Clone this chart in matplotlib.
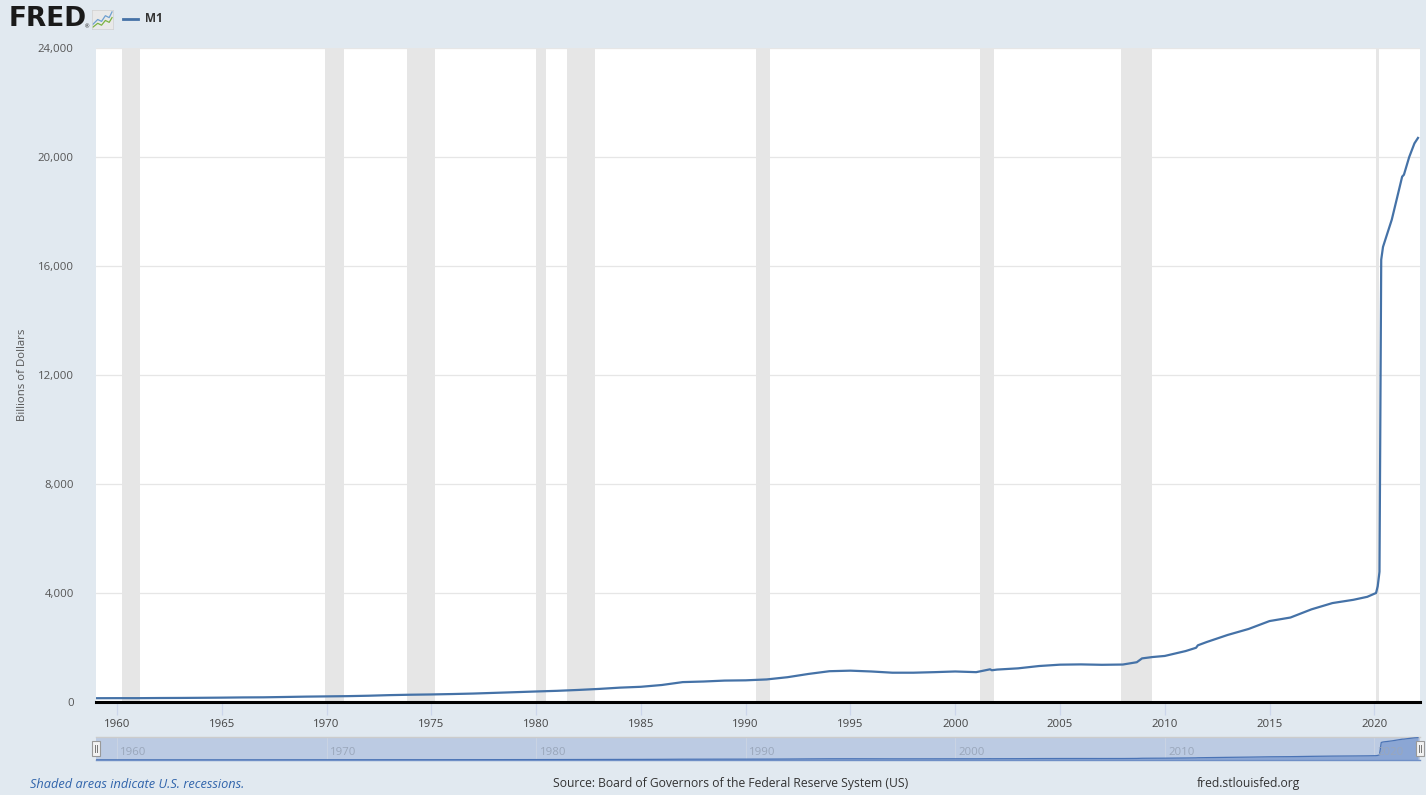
import matplotlib
matplotlib.use('Agg')
import matplotlib.pyplot as plt
import matplotlib.dates as mdates
import pandas as pd
from matplotlib.patches import Rectangle
from matplotlib.lines import Line2D

# ---------------- data ----------------
dates = ['1959-01', '1960-01', '1961-01', '1962-01', '1963-01', '1964-01', '1965-01',
         '1966-01', '1967-01', '1968-01', '1969-01', '1970-01', '1971-01', '1972-01',
         '1973-01', '1974-01', '1975-01', '1976-01', '1977-01', '1978-01', '1979-01',
         '1980-01', '1981-01', '1982-01', '1983-01', '1984-01', '1985-01', '1986-01',
         '1987-01', '1988-01', '1989-01', '1990-01', '1991-01', '1992-01', '1993-01',
         '1994-01', '1995-01', '1996-01', '1997-01', '1998-01', '1999-01', '2000-01',
         '2001-01', '2001-09', '2001-10', '2002-01', '2003-01', '2004-01', '2005-01',
         '2006-01', '2007-01', '2008-01', '2008-09', '2008-12', '2009-06', '2010-01',
         '2011-01', '2011-07', '2011-08', '2012-01', '2013-01', '2014-01', '2015-01',
         '2016-01', '2017-01', '2018-01', '2019-01', '2019-09', '2020-02', '2020-03',
         '2020-04', '2020-05', '2020-06', '2020-08', '2020-11', '2021-02', '2021-05',
         '2021-06', '2021-09', '2021-12', '2022-02']
m1 = [139, 141, 141, 146, 149, 154, 160,
      168, 172, 184, 197, 206, 215, 230,
      252, 267, 277, 292, 310, 335, 360,
      386, 410, 442, 480, 527, 558, 624,
      730, 752, 786, 795, 828, 910, 1030,
      1130, 1150, 1120, 1075, 1075, 1095, 1120,
      1095, 1200, 1165, 1190, 1235, 1320, 1370,
      1380, 1365, 1375, 1460, 1600, 1650, 1690,
      1870, 1990, 2080, 2200, 2460, 2680, 2970,
      3100, 3400, 3630, 3750, 3860, 4000, 4250,
      4780, 16230, 16700, 17100, 17700, 18500, 19280,
      19350, 20000, 20500, 20700]

rec_start = ['1960-04', '1969-12', '1973-11', '1980-01', '1981-07',
             '1990-07', '2001-03', '2007-12', '2020-02']
rec_end = ['1961-02', '1970-11', '1975-03', '1980-07', '1982-11',
           '1991-03', '2001-11', '2009-06', '2020-04']

y_ticks = [0, 4000, 8000, 12000, 16000, 20000, 24000]
x_tick_years = [1960, 1965, 1970, 1975, 1980, 1985, 1990, 1995, 2000, 2005, 2010, 2015, 2020]
nav_years = [1960, 1970, 1980, 1990, 2000, 2010, 2020]

series_name = 'M1'
y_label = 'Billions of Dollars'
note_text = 'Shaded areas indicate U.S. recessions.'
source_text = 'Source: Board of Governors of the Federal Reserve System (US)'
site_text = 'fred.stlouisfed.org'

# ---------------- style ----------------
plt.rcParams['font.family'] = ['Open Sans', 'DejaVu Sans']
BG = '#e1e9f0'
LINE = '#4572a7'
W, H = 1426, 795

def fx(px):
    return px / W

def fy(py):
    return 1 - py / H

x = pd.to_datetime(dates)
xmin = pd.Timestamp('1959-01-01')
xmax = pd.Timestamp('2022-03-08')

fig = plt.figure(figsize=(W / 100, H / 100), dpi=100, facecolor=BG)

# ---------------- main axes ----------------
ax_w = (1420 - 96) / W
ax = fig.add_axes([fx(96), fy(702), ax_w, (702 - 48) / H])
ax.set_facecolor('white')
for s0, s1 in zip(rec_start, rec_end):
    ax.axvspan(pd.Timestamp(s0), pd.Timestamp(s1), color='#e6e6e6', lw=0, zorder=0)
ax.plot(x, m1, color=LINE, lw=1.6, zorder=3, solid_joinstyle='round')
ax.set_xlim(xmin, xmax)
ax.set_ylim(0, 24000)
ax.set_yticks(y_ticks)
ax.set_yticklabels([f'{v:,}' for v in y_ticks])
ax.yaxis.grid(True, color='#e6e6e6', lw=0.9, zorder=1)
ax.set_axisbelow(True)
ax.set_xticks([pd.Timestamp(f'{y}-01-01') for y in x_tick_years])
ax.set_xticklabels([str(y) for y in x_tick_years])
for sp in ['top', 'right', 'left']:
    ax.spines[sp].set_visible(False)
ax.spines['bottom'].set_color('black')
ax.spines['bottom'].set_linewidth(2.2)
ax.spines['bottom'].set_zorder(5)
ax.tick_params(axis='y', length=0, pad=16, labelsize=8.2, labelcolor='#555555')
ax.tick_params(axis='x', length=9, width=0.9, color='#ccd6eb', pad=3,
               labelsize=8.2, labelcolor='#444444', direction='out')
ax.set_ylabel(y_label, fontsize=8.2, color='#555555')
ax.yaxis.set_label_coords((28 - 96) / (1420 - 96), 0.5)

# ---------------- navigator ----------------
nav = fig.add_axes([fx(96), fy(760), ax_w, (760 - 737) / H])
nav.set_facecolor('#bccbe3')
nav.fill_between(x, 0, m1, color='#8ba6d4', lw=0, zorder=2)
nav.plot(x, m1, color='#4a73b5', lw=0.9, zorder=3)
nav.set_xlim(xmin, xmax)
nav.set_ylim(0, max(m1) * 1.03)
for yv in nav_years:
    t = pd.Timestamp(f'{yv}-01-01')
    nav.axvline(t, color='#c9d3e3', lw=0.8, zorder=1)
    nav.text(t + pd.Timedelta(days=60), 0.32, str(yv), transform=nav.get_xaxis_transform(),
             fontsize=8.2, color='#9aa7bb', va='center', ha='left', zorder=4)
nav.set_xticks([])
nav.set_yticks([])
for sp in ['left', 'right']:
    nav.spines[sp].set_visible(False)
nav.spines['top'].set_color('#cccccc')
nav.spines['top'].set_linewidth(1.0)
nav.spines['bottom'].set_color('#6f8fc6')
nav.spines['bottom'].set_linewidth(1.0)

# handles
for hx in [96, 1420]:
    fig.patches.append(Rectangle((fx(hx - 4), fy(756)), 8 / W, 15 / H, transform=fig.transFigure,
                                 facecolor='#f2f2f2', edgecolor='#999999', lw=0.8, zorder=10))
    for dx in (-1.3, 1.3):
        fig.lines.append(Line2D([fx(hx + dx), fx(hx + dx)], [fy(745), fy(752)],
                                transform=fig.transFigure, color='#777777', lw=0.7, zorder=11))

# ---------------- header ----------------
fig.text(fx(9), fy(19.5), 'FRED', fontsize=19, fontweight='bold', color='#1a1a1a',
         va='center', ha='left', family='DejaVu Sans')
fig.text(fx(85), fy(27), '®', fontsize=4, color='#1a1a1a', va='center', ha='left')
icon = fig.add_axes([fx(92), fy(29), 21 / W, 19 / H])
icon.set_facecolor('#e9e9e9')
icon.plot([0, 0.25, 0.45, 0.65, 0.85, 1.0], [0.25, 0.5, 0.4, 0.7, 0.6, 0.9], color='#6fa0d0', lw=0.9)
icon.plot([0, 0.25, 0.45, 0.65, 0.85, 1.0], [0.1, 0.3, 0.2, 0.45, 0.35, 0.6], color='#7cb342', lw=0.9)
icon.set_xlim(-0.05, 1.05)
icon.set_ylim(0, 1)
icon.set_xticks([])
icon.set_yticks([])
for sp in icon.spines.values():
    sp.set_color('#d0d0d0')
    sp.set_linewidth(0.5)
fig.lines.append(Line2D([fx(123), fx(138)], [fy(19), fy(19)], transform=fig.transFigure,
                        color=LINE, lw=2))
fig.text(fx(145), fy(19), series_name, fontsize=8.5, fontweight='bold', color='#333333',
         va='center', ha='left')

# ---------------- footer ----------------
fig.text(fx(30), fy(784), note_text, fontsize=9.2, style='italic', color='#3064ab',
         va='center', ha='left')
fig.text(fx(731), fy(784), source_text, fontsize=8.7, color='#333333', va='center', ha='center')
fig.text(fx(1248), fy(784), site_text, fontsize=8.7, color='#333333', va='center', ha='center')

fig.savefig('out.png', dpi=100, facecolor=BG)
